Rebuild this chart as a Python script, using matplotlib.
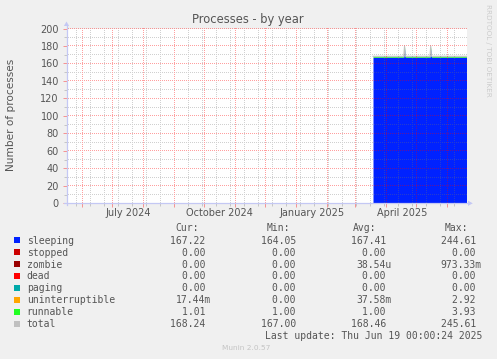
import matplotlib
matplotlib.use('Agg')
import matplotlib.pyplot as plt
import matplotlib.dates as mdates
from matplotlib.ticker import MultipleLocator, FixedLocator, NullFormatter
from matplotlib.patches import Rectangle, Polygon
from matplotlib.lines import Line2D
import numpy as np
import pandas as pd

# ---------------- data ----------------
sample_dates = ['2025-03-18 17:00', '2025-04-18 12:00', '2025-04-19 06:00', '2025-04-20 00:00',
                '2025-05-14 18:00', '2025-05-15 10:00', '2025-05-16 04:00', '2025-06-20 05:00']
sleeping = [167.2, 167.2, 177.0, 167.2, 167.2, 177.0, 167.2, 167.2]
stopped = [0, 0, 0, 0, 0, 0, 0, 0]
zombie = [0, 0, 0, 0, 0, 0, 0, 0]
dead = [0, 0, 0, 0, 0, 0, 0, 0]
paging = [0, 0, 0, 0, 0, 0, 0, 0]
uninterruptible = [0, 0, 0, 0, 0, 0, 0, 0]
runnable = [1.0, 1.0, 2.0, 1.0, 1.0, 2.0, 1.0, 1.0]
total = [168.2, 168.2, 180.0, 168.2, 168.2, 180.0, 168.2, 168.2]

series_names = ['sleeping', 'stopped', 'zombie', 'dead', 'paging',
                'uninterruptible', 'runnable', 'total']
series_colors = ['#0022ff', '#cc0000', '#990000', '#ff0000', '#00aaaa',
                 '#ffa500', '#22ff22', '#c0c0c0']
cur_vals = ['167.22 ', '0.00 ', '0.00 ', '0.00 ', '0.00 ', '17.44m', '1.01 ', '168.24 ']
min_vals = ['164.05 ', '0.00 ', '0.00 ', '0.00 ', '0.00 ', '0.00 ', '1.00 ', '167.00 ']
avg_vals = ['167.41 ', '0.00 ', '38.54u', '0.00 ', '0.00 ', '37.58m', '1.00 ', '168.46 ']
max_vals = ['244.61 ', '0.00 ', '973.33m', '0.00 ', '0.00 ', '2.92 ', '3.93 ', '245.61 ']
col_headers = ['Cur:', 'Min:', 'Avg:', 'Max:']
month_labels = ['July 2024', 'October 2024', 'January 2025', 'April 2025']
month_label_dates = ['2024-07-16 12:00', '2024-10-16 12:00', '2025-01-16 12:00', '2025-04-16 12:00']
y_ticks = [0, 20, 40, 60, 80, 100, 120, 140, 160, 180, 200]

# ---------------- layout ----------------
W, H = 497, 359
fig = plt.figure(figsize=(W / 100, H / 100), dpi=100, facecolor='#f0f0f0')


def fx(px):
    return px / W


def fy(py):
    return 1 - py / H


L, R, T, B = 66.5, 466.5, 28.5, 203.3
ax = fig.add_axes([fx(L), fy(B), (R - L) / W, (B - T) / H])
ax.set_facecolor('white')

x_start = pd.Timestamp('2024-05-16 05:00')
x_end = x_start + pd.Timedelta(days=400)
ax.set_xlim(x_start, x_end)
ax.set_ylim(0, 200)

dates = pd.to_datetime(sample_dates)
s = np.array(sleeping)
base = s.copy()
ax.fill_between(dates, 0, s, color='#0022ff', lw=0, zorder=1)
for vals, col in [(stopped, '#cc0000'), (zombie, '#990000'), (dead, '#ff0000'),
                  (paging, '#00aaaa'), (uninterruptible, '#ffa500'), (runnable, '#22ff22')]:
    v = np.array(vals, dtype=float)
    if v.max() > 0:
        ax.fill_between(dates, base, base + v, color=col, lw=0, zorder=1)
    base = base + v
ax.plot(dates, total, color='#c0c0c0', lw=0.8, zorder=1.5)

# ticks (positions) ---------------------------------------------------------
maj_col = (1.0, 0.0, 0.0, 0.38)
min_col = (0.45, 0.45, 0.45, 0.33)
ax.yaxis.set_major_locator(FixedLocator(y_ticks))
ax.yaxis.set_minor_locator(MultipleLocator(10))
ax.xaxis.set_major_locator(mdates.MonthLocator())
minor_dates = pd.date_range('2024-05-26', x_end, freq='14D')
ax.xaxis.set_minor_locator(FixedLocator(mdates.date2num(minor_dates)))
ax.xaxis.set_major_formatter(NullFormatter())
ax.xaxis.set_minor_formatter(NullFormatter())
ax.tick_params(axis='both', which='major', length=3, width=0.72, color=maj_col, direction='out')
ax.tick_params(axis='both', which='minor', length=2, width=0.72, color=min_col, direction='out')
ax.tick_params(axis='y', which='major', labelsize=7, labelcolor='#555555', pad=2.5)
for sp in ax.spines.values():
    sp.set_visible(False)

# dotted grid as a pixel-exact overlay image -------------------------------
x0n, x1n = mdates.date2num(x_start), mdates.date2num(x_end)
pl, pb = ax.transData.transform((x0n, 0))
pr, pt = ax.transData.transform((x1n, 200))
c0, c1 = int(np.ceil(pl)), int(np.floor(pr))
r0, r1 = int(np.ceil(pb)), int(np.floor(pt))
grid_img = np.zeros((H, W, 4))


def paint(xvals, yvals, col):
    for v in yvals:
        r = int(np.floor(ax.transData.transform((x0n, v))[1]))
        for c in range(c0, c1 + 1):
            if c % 2 == 0:
                grid_img[r, c] = col
    for v in xvals:
        c = int(np.floor(ax.transData.transform((v, 0))[0]))
        for r in range(r0, r1 + 1):
            if r % 2 == 0:
                grid_img[r, c] = col


maj_x = [mdates.date2num(d) for d in pd.date_range('2024-06-01', x_end, freq='MS')]
min_x = list(mdates.date2num(minor_dates))
min_y = [v for v in range(10, 200, 10) if v % 20]
paint(min_x, min_y, min_col)
paint(maj_x, [v for v in y_ticks if v > 0], maj_col)
fig.figimage(grid_img, xo=0, yo=0, origin='lower', zorder=3)

for d, lab in zip(month_label_dates, month_labels):
    ax.text(pd.Timestamp(d), -9.2 / (B - T), lab, transform=ax.get_xaxis_transform(),
            ha='center', va='center', fontsize=7, color='#555555')

# axis lines with arrows
axcol = '#c4c8f4'
fig.add_artist(Line2D([fx(L), fx(L)], [fy(B + 2), fy(25)], transform=fig.transFigure,
                      color=axcol, lw=0.9, zorder=4))
fig.add_artist(Line2D([fx(L - 3), fx(469)], [fy(B), fy(B)], transform=fig.transFigure,
                      color=axcol, lw=0.9, zorder=4))
fig.add_artist(Polygon([[fx(L - 2.6), fy(26)], [fx(L + 2.6), fy(26)], [fx(L), fy(21.5)]],
                       closed=True, transform=fig.transFigure, color=axcol, lw=0))
fig.add_artist(Polygon([[fx(468), fy(B - 2.6)], [fx(468), fy(B + 2.6)], [fx(472.8), fy(B)]],
                       closed=True, transform=fig.transFigure, color=axcol, lw=0))

# titles
fig.text(fx(248), fy(19.5), 'Processes - by year', ha='center', va='center',
         fontsize=8.3, color='#555555')
fig.text(fx(11), fy(115), 'Number of processes', rotation=90, ha='center', va='center',
         fontsize=7.6, color='#555555')
fig.text(fx(487.7), fy(4.5), 'RRDTOOL / TOBI OETIKER', rotation=270, ha='center', va='top',
         fontsize=5.2, color='#cccccc')

# legend
mono = dict(family='DejaVu Sans Mono', fontsize=7, color='#555555', va='baseline')
cw = 5.85
num_right = [205.7 + cw, 296 + cw, 386 + cw, 476 + cw]
hdr_right = [199, 290, 376.7, 468.3]
hdr_y = 227
for h, xr in zip(col_headers, hdr_right):
    fig.text(fx(xr), fy(hdr_y + 3.6), h, ha='right', **mono)

row_y0, row_dy = 240, 11.96
for i, (name, col) in enumerate(zip(series_names, series_colors)):
    yc = row_y0 + i * row_dy
    fig.add_artist(Rectangle((fx(14), fy(yc + 3)), 6 / W, 6 / H, transform=fig.transFigure,
                             color=col, lw=0))
    fig.text(fx(26.7), fy(yc + 3.6), name, ha='left', **mono)
    for vals, xr in zip([cur_vals, min_vals, avg_vals, max_vals], num_right):
        fig.text(fx(xr), fy(yc + 3.6), vals[i], ha='right', **mono)

fig.text(fx(482.5), fy(335.7 + 3.6), 'Last update: Thu Jun 19 00:00:24 2025', ha='right', **mono)
fig.text(fx(246), fy(347.7), 'Munin 2.0.57', ha='center', va='center', fontsize=5.3,
         color='#c4c4c4')

fig.savefig('out.png', dpi=100, facecolor=fig.get_facecolor())
